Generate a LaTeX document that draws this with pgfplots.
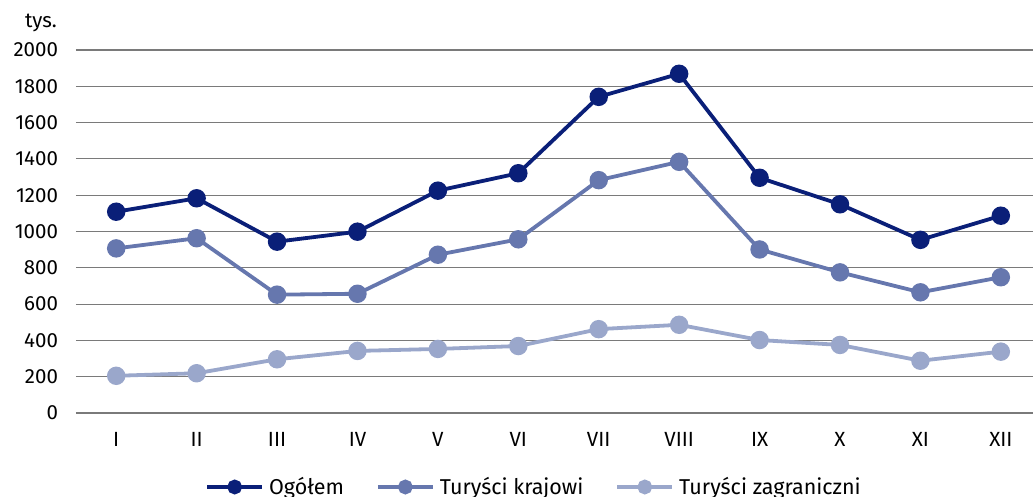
\documentclass[border=0pt]{standalone}
\usepackage{pgfplots}
\pgfplotsset{compat=1.18}
\usepackage{fontspec}
\setmainfont{Fira Sans}
\definecolor{cA}{HTML}{0A1F78}
\definecolor{cB}{HTML}{6677AE}
\definecolor{cC}{HTML}{9AA7CB}
\definecolor{gridc}{HTML}{7A7A7A}
\begin{document}
\begin{tikzpicture}[font=\fontsize{20.5bp}{24bp}\selectfont]
\begin{axis}[
  scale only axis,
  width=957bp, height=363bp,
  xmin=-0.5, xmax=11.4,
  ymin=0, ymax=2000,
  ytick={0,200,...,2000},
  xtick={0,...,11},
  xticklabels={I,II,III,IV,V,VI,VII,VIII,IX,X,XI,XII},
  axis line style={draw=none},
  ymajorgrids,
  major grid style={gridc, line width=1.2bp},
  major tick length=0pt,
  yticklabel style={anchor=east, xshift=-14.5bp},
  xticklabel style={anchor=center, yshift=-26bp},
  /pgf/number format/assume math mode=true,
  /pgf/number format/1000 sep={},
  legend columns=3,
  legend style={draw=none, fill=none, at={(rel axis cs:0.4786,0)}, anchor=center, yshift=-74bp,
    font=\fontsize{21.5bp}{24bp}\selectfont,
    /tikz/every odd column/.append style={column sep=3bp},
    /tikz/every even column/.append style={column sep=30bp}},
  legend image code/.code={\draw[mark repeat=2,mark phase=2,#1,mark size=5.5bp] plot coordinates {(0bp,0bp) (27.5bp,0bp) (55bp,0bp)};},
  every axis plot/.append style={line width=3.8bp, mark=*, mark size=7.3bp},
]
\addplot[cA, mark options={fill=cA, draw=cA}] coordinates {
(0,1109) (1,1183) (2,944) (3,999) (4,1225) (5,1321) (6,1742) (7,1869) (8,1296) (9,1150) (10,954) (11,1087)};
\addlegendentry{Ogółem}
\addplot[cB, mark options={fill=cB, draw=cB}] coordinates {
(0,907) (1,963) (2,652) (3,657) (4,872) (5,957) (6,1283) (7,1384) (8,901) (9,775) (10,665) (11,748)};
\addlegendentry{Turyści krajowi}
\addplot[cC, mark options={fill=cC, draw=cC}] coordinates {
(0,205) (1,219) (2,296) (3,342) (4,353) (5,369) (6,462) (7,486) (8,402) (9,375) (10,288) (11,338)};
\addlegendentry{Turyści zagraniczni}
\end{axis}
\node[anchor=base east, inner sep=0pt, xshift=-19bp, yshift=22bp] at (current axis.north west) {tys.};
\pgfresetboundingbox
\path[use as bounding box] ([xshift=-76bp,yshift=-84bp]current axis.south west) rectangle ([yshift=50bp]current axis.north east);
\end{tikzpicture}
\end{document}
